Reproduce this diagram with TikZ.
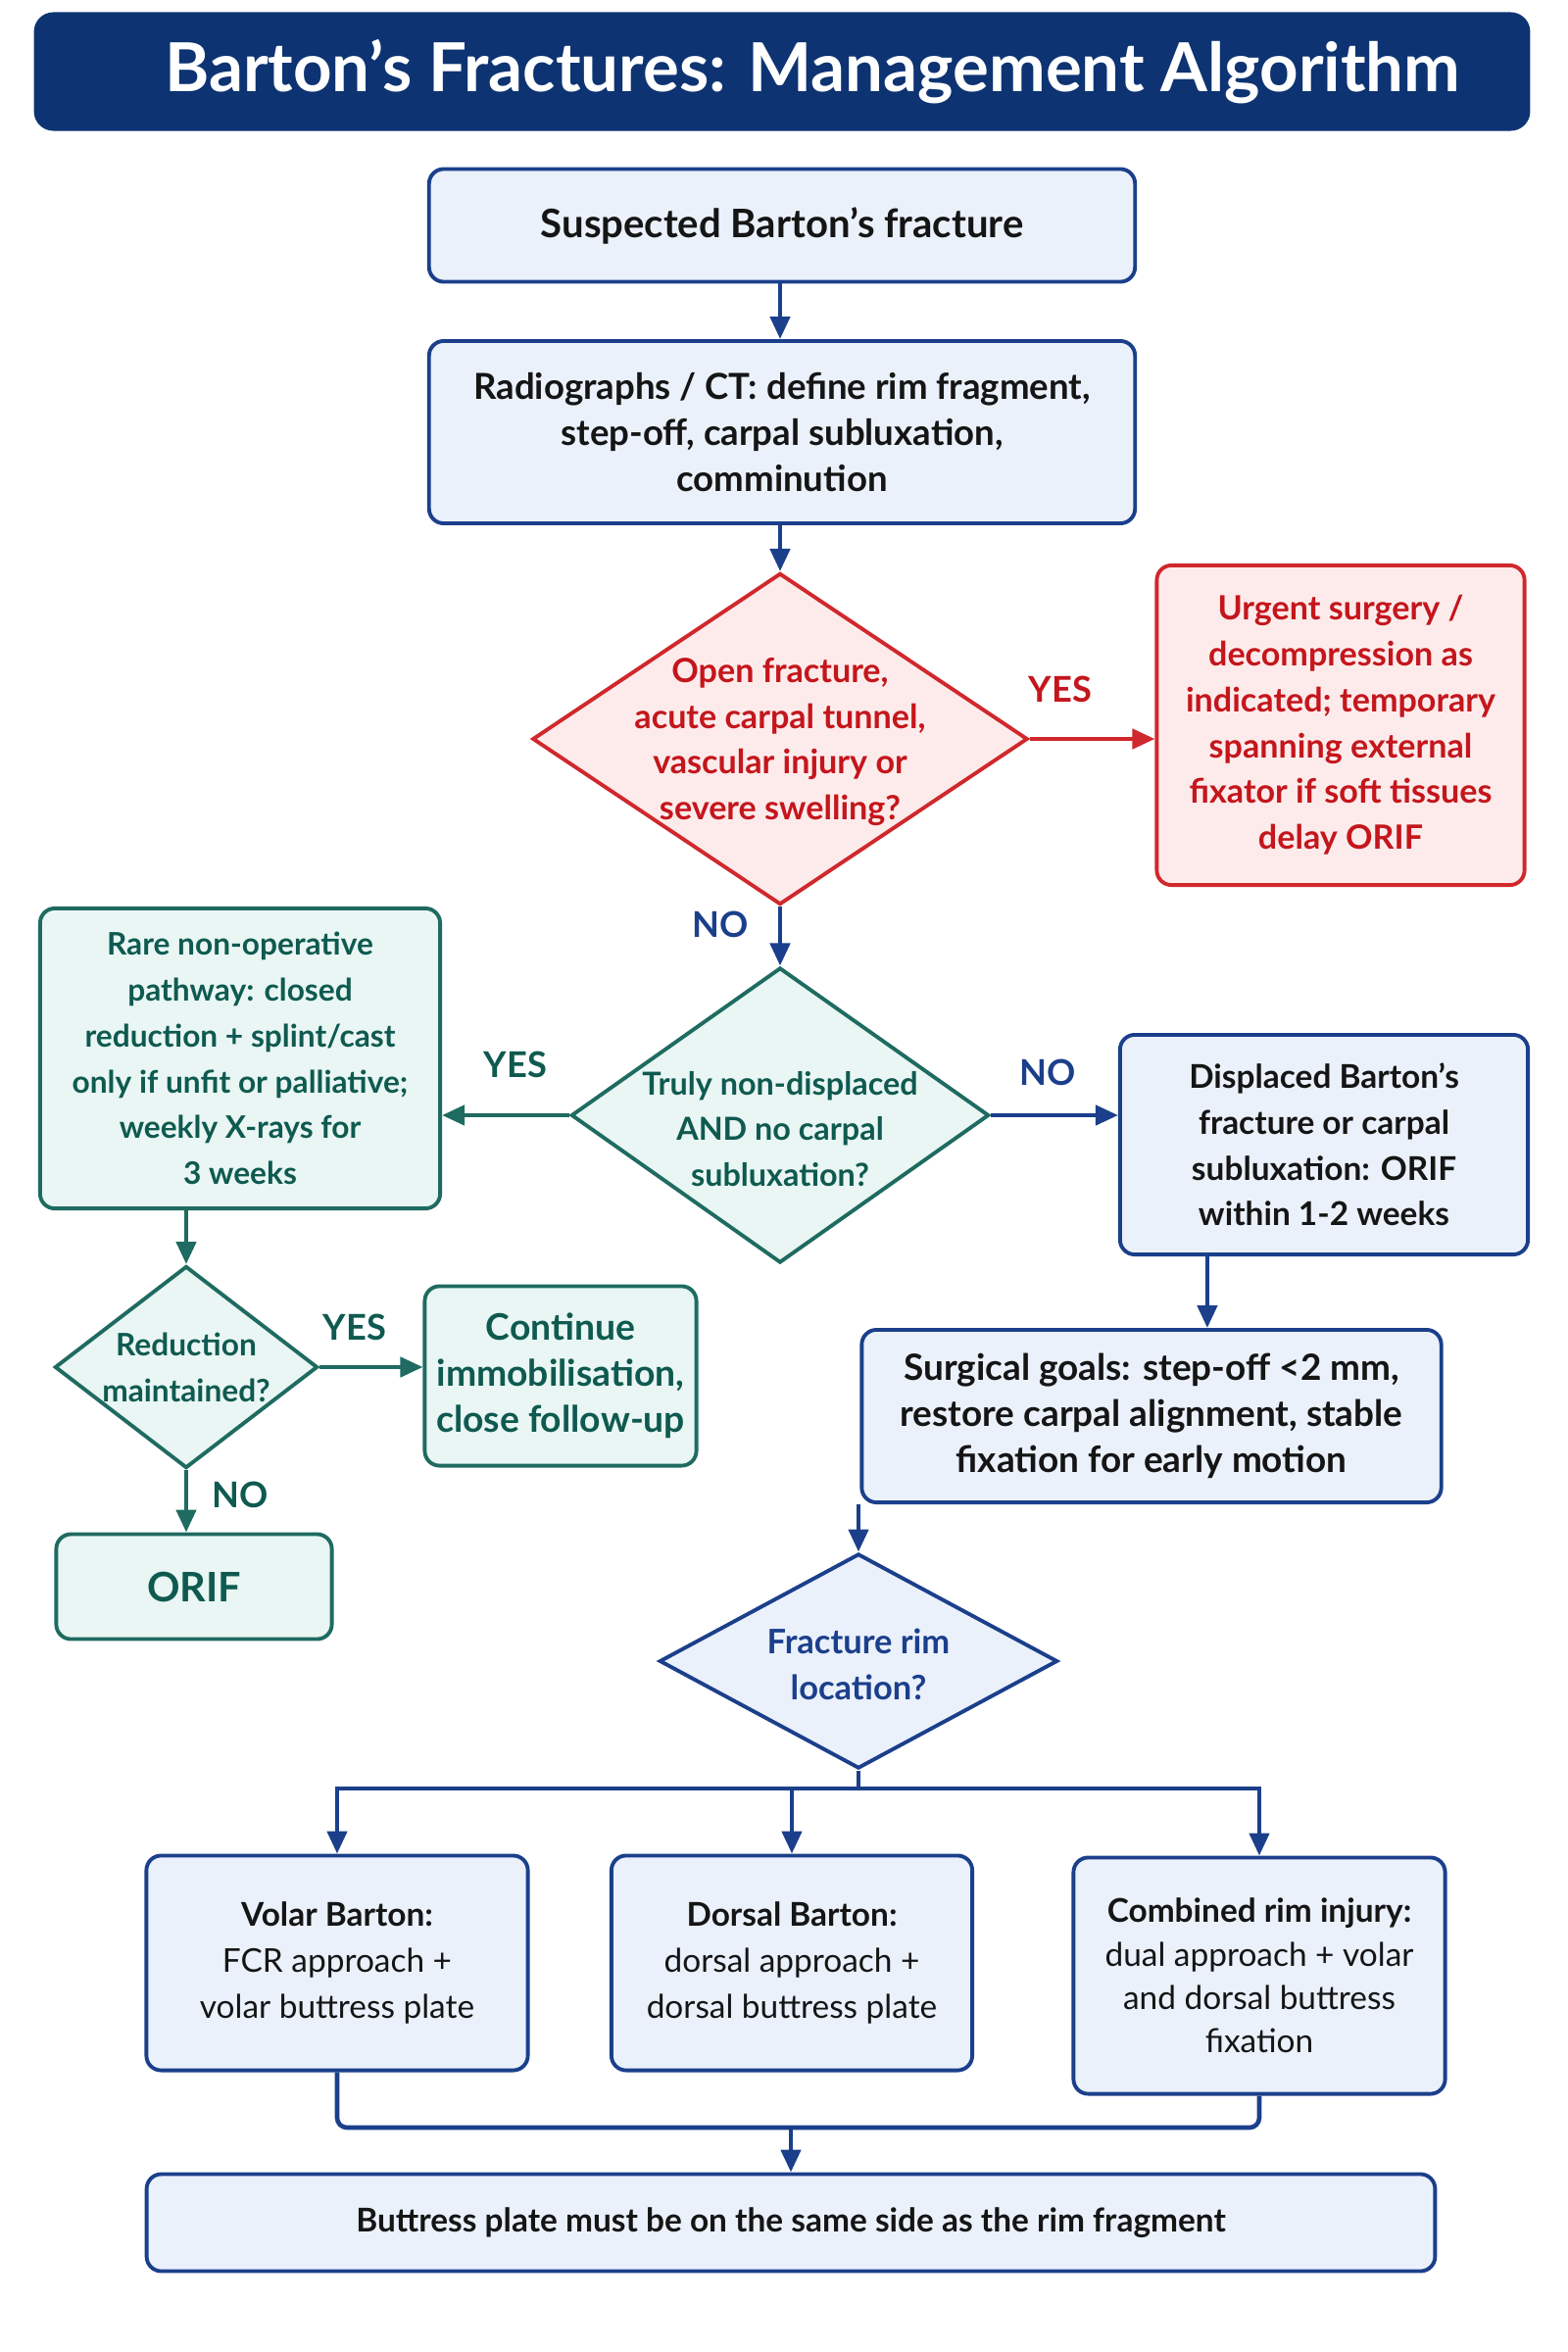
\documentclass[tikz,border=0pt]{standalone}
\usepackage{fontspec}
\setmainfont{Lato}
\usetikzlibrary{shapes.geometric,arrows.meta,calc}
\definecolor{navy}{RGB}{13,51,114}
\definecolor{bline}{RGB}{27,63,139}
\definecolor{bfill}{RGB}{234,241,251}
\definecolor{rline}{RGB}{208,40,44}
\definecolor{rfill}{RGB}{253,235,235}
\definecolor{rtext}{RGB}{196,22,28}
\definecolor{tline}{RGB}{31,107,97}
\definecolor{tfill}{RGB}{233,246,243}
\definecolor{ttext}{RGB}{15,90,80}
\definecolor{dtext}{RGB}{21,21,21}
\tikzset{
  fs/.style={font=\fontsize{#1}{13.3}\selectfont\bfseries},
  body/.style={fs=10, align=center},
  bbox/.style={body, rectangle, rounded corners=0.15cm, draw=bline, fill=bfill, line width=1.1pt, text=dtext, inner sep=0pt},
  rbox/.style={bbox, draw=rline, fill=rfill, text=rtext},
  tbox/.style={bbox, draw=tline, fill=tfill, text=ttext},
  dia/.style={diamond, draw=bline, fill=bfill, line width=1.1pt, inner sep=0pt},
  rdia/.style={dia, draw=rline, fill=rfill},
  tdia/.style={dia, draw=tline, fill=tfill},
  dtxt/.style={body, inner sep=0pt},
  arr/.style={line width=1.3pt, draw=bline, -{Triangle[length=0.23cm,width=0.2cm]}},
  rarr/.style={arr, draw=rline, -{Triangle[length=0.23cm,width=0.2cm,fill=rline]}},
  tarr/.style={arr, draw=tline},
  lbl/.style={font=\fontsize{10.3}{12}\selectfont\bfseries, inner sep=0pt},
}
\begin{document}
\begin{tikzpicture}[x=0.01cm,y=-0.01cm]
\useasboundingbox (0,0) rectangle (1600,2400);
\fill[white] (0,0) rectangle (1600,2400);
% title
\node[rectangle, rounded corners=0.2cm, fill=navy, minimum width=15.26cm, minimum height=1.21cm, inner sep=0pt] (title) at (798,73) {};
\node[text=white, font=\fontsize{19.6}{22}\selectfont\bfseries, inner sep=0pt] (ttl) at (829,73) {Barton’s Fractures: Management Algorithm};
% main column
\node[bbox, fs=11.4, minimum width=7.2cm, minimum height=1.15cm] (b1) at (798,230) {Suspected Barton’s fracture};
\node[bbox, fs=10.4, minimum width=7.2cm, minimum height=1.86cm] (b2) at (798,441) {Radiographs / CT: define rim fragment,\\step-off, carpal subluxation,\\comminution};
\node[rdia, minimum width=5.05cm, minimum height=3.38cm] (d1) at (796,754) {};
\node[dtxt, fs=9.7, text=rtext] at (796,757) {Open fracture,\\acute carpal tunnel,\\vascular injury or\\severe swelling?};
\node[rbox, fs=9.7, minimum width=3.75cm, minimum height=3.26cm] (rb) at (1368,740) {Urgent surgery /\\decompression as\\indicated; temporary\\spanning external\\fixator if soft tissues\\delay ORIF};
\node[tdia, minimum width=4.26cm, minimum height=3.01cm] (d2) at (796,1138) {};
\node[dtxt, fs=9.2, text=ttext] at (796,1152) {Truly non-displaced\\AND no carpal\\subluxation?};
\node[tbox, fs=9.0, minimum width=4.08cm, minimum height=3.06cm] (lb) at (245,1080) {Rare non-operative\\pathway: closed\\reduction + splint/cast\\only if unfit or palliative;\\weekly X-rays for\\3 weeks};
\node[bbox, fs=9.5, minimum width=4.16cm, minimum height=2.24cm] (rt) at (1351,1168) {Displaced Barton’s\\fracture or carpal\\subluxation: ORIF\\within 1-2 weeks};
\node[bbox, fs=10.5, minimum width=5.91cm, minimum height=1.76cm] (sg) at (1175,1445) {Surgical goals: step-off <2 mm,\\restore carpal alignment, stable\\fixation for early motion};
\node[tdia, minimum width=2.68cm, minimum height=2.06cm] (d4) at (190,1395) {};
\node[dtxt, fs=9.0, text=ttext] at (190,1395) {Reduction\\maintained?};
\node[tbox, fs=10.6, minimum width=2.77cm, minimum height=1.83cm] (cn) at (572,1404) {Continue\\immobilisation,\\close follow-up};
\node[tbox, minimum width=2.81cm, minimum height=1.07cm, font=\fontsize{11.8}{14}\selectfont\bfseries] (orif) at (198,1619) {ORIF};
\node[dia, minimum width=4.06cm, minimum height=2.19cm] (d3) at (876,1695) {};
\node[dtxt, fs=9.8, text=bline] at (876,1698) {Fracture rim\\location?};
\node[bbox, fs=9.5, minimum width=3.89cm, minimum height=2.19cm] (vol) at (344,2003) {Volar Barton:\\{\mdseries FCR approach +}\\{\mdseries volar buttress plate}};
\node[bbox, fs=9.5, minimum width=3.68cm, minimum height=2.19cm] (dor) at (808,2003) {Dorsal Barton:\\{\mdseries dorsal approach +}\\{\mdseries dorsal buttress plate}};
\node[bbox, fs=9.5, font=\fontsize{9.5}{12.6}\selectfont\bfseries, minimum width=3.79cm, minimum height=2.41cm] (comb) at (1285,2016) {Combined rim injury:\\{\mdseries dual approach + volar}\\{\mdseries and dorsal buttress}\\{\mdseries fixation}};
\node[bbox, fs=9.5, minimum width=13.14cm, minimum height=0.99cm] (fin) at (807,2268) {Buttress plate must be on the same side as the rim fragment};
\coordinate (br) at (876,1825);
\coordinate (mg) at (807,2171);
% connectors
\draw[arr] (b1.south -| 796,0) -- (b2.north -| 796,0);
\draw[arr] (b2.south -| d1.north) -- (d1.north);
\draw[rarr] (d1.east) -- (d1.east -| rb.west);
\node[lbl, text=rtext] at (1082,703) {YES};
\draw[arr] (d1.south) -- (d2.north);
\node[lbl, text=bline] at (735,943) {NO};
\draw[tarr] (d2.west) -- (d2.west -| lb.east);
\node[lbl, text=ttext] at (526,1086) {YES};
\draw[arr] (d2.east) -- (d2.east -| rt.west);
\node[lbl, text=bline] at (1069,1094) {NO};
\draw[arr] ([xshift=-1.19cm]rt.south) -- ([xshift=-1.19cm]rt.south |- sg.north);
\draw[arr] (d3.north |- sg.south) -- (d3.north);
\draw[tarr] (d4.north |- lb.south) -- (d4.north);
\draw[tarr] (d4.east) -- (d4.east -| cn.west);
\node[lbl, text=ttext] at (362,1354) {YES};
\draw[tarr] (d4.south) -- (orif.north -| d4.south);
\node[lbl, text=ttext] at (245,1525) {NO};
\draw[line width=1.3pt, draw=bline] (d3.south) -- (br);
\draw[arr] (br) -| (vol.north);
\draw[arr] (br) -| (comb.north);
\draw[arr] (br -| dor.north) -- (dor.north);
\draw[line width=1.3pt, draw=bline, rounded corners=0.1cm] (vol.south) |- (mg) -| (comb.south);
\draw[arr] (mg) -- (fin.north -| mg);
\end{tikzpicture}
\end{document}
